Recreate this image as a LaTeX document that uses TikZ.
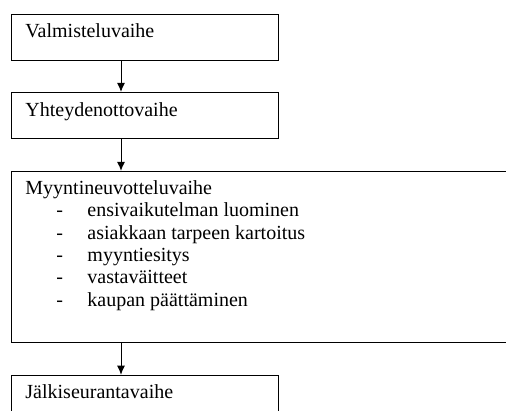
\documentclass[tikz,border=0pt]{standalone}
\usepackage{fontspec}
\setmainfont{Liberation Serif}
\usetikzlibrary{arrows.meta}
\newcommand{\kohta}[1]{\\\hspace*{31pt}\makebox[31pt][l]{-}#1}
\begin{document}
\begin{tikzpicture}[x=1pt, y=1pt, >={Latex[length=9pt,width=8pt]}, line width=0.9pt,
    font=\fontsize{20}{22.4}\selectfont]
	\tikzset{vaihe/.style={draw, anchor=north west, minimum width=267pt, minimum height=46pt, inner sep=0pt},
		teksti/.style={anchor=north west, inner sep=0pt, align=left}}
	\clip (0,0) rectangle (506,410);
	% laatikot
	\node[vaihe] (valm) at (11,396) {};
	\node[vaihe] (yht) at ([yshift=-31pt]valm.south west) {};
	\node[vaihe, minimum width=520pt, minimum height=171pt] (neuv) at ([yshift=-32pt]yht.south west) {};
	\node[vaihe, minimum height=50pt] (jalki) at ([yshift=-32pt]neuv.south west) {};
	% tekstit
	\node[teksti] (valmt) at ([xshift=14pt]valm.north west) {\rule{0pt}{23.5pt}Valmisteluvaihe};
	\node[teksti] (yhtt) at ([xshift=14pt]yht.north west) {\rule{0pt}{24pt}Yhteydenottovaihe};
	\node[teksti] (neuvt) at ([xshift=14pt]neuv.north west) {\rule{0pt}{23pt}Myyntineuvotteluvaihe
		\kohta{ensivaikutelman luominen}
		\kohta{asiakkaan tarpeen kartoitus}
		\kohta{myyntiesitys}
		\kohta{vastaväitteet}
		\kohta{kaupan päättäminen}};
	\node[teksti] (jalkit) at ([xshift=14pt]jalki.north west) {\rule{0pt}{23pt}Jälkiseurantavaihe};
	% nuolet
	\draw[->] ([xshift=110pt]valm.south west) -- ([xshift=110pt]yht.north west);
	\draw[->] ([xshift=110pt]yht.south west) -- ([xshift=110pt]neuv.north west);
	\draw[->] ([xshift=110pt]neuv.south west) -- ([xshift=110pt]jalki.north west);
\end{tikzpicture}
\end{document}
